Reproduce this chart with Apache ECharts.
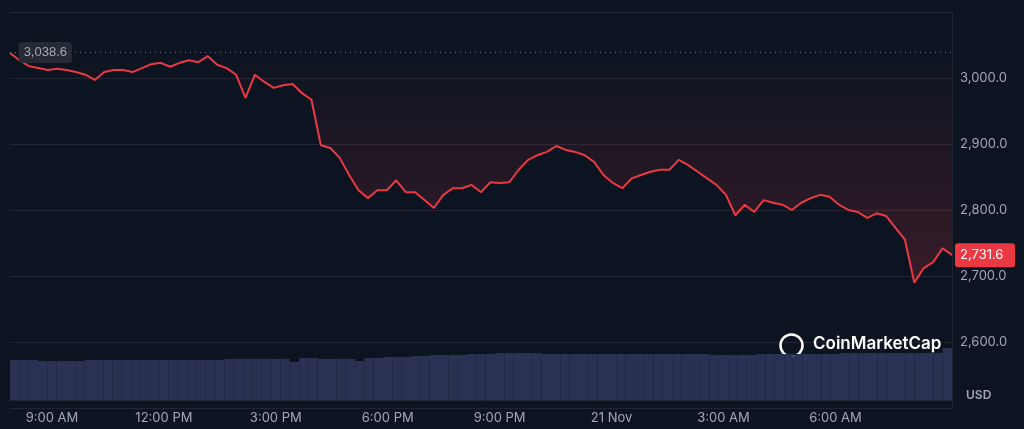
<!DOCTYPE html>
<html>
<head>
<meta charset="utf-8">
<script src="https://cdn.jsdelivr.net/npm/echarts@6/dist/echarts.min.js"></script>
<style>html,body{margin:0;background:#0d1421}#main{width:1024px;height:429px}</style>
</head>
<body>
<div id="main"></div>
<script>
// 15-minute steps, from 8:00 AM to 9:00 AM next day
var prices = [3038,3027,3018,3015,3012,3014,3012,3009,3005,2997,3009,3012,3012,3009,3015,3021,3023,3017,3023,3027,
  3024,3033,3020,3015,3005,2970,3005,2994,2985,2989,2991,2977,2967,2898,2894,2879,2853,2830,2818,2830,
  2830,2845,2827,2827,2815,2803,2823,2833,2833,2838,2827,2842,2841,2842,2861,2876,2883,2888,2897,2891,
  2888,2883,2873,2853,2841,2833,2848,2853,2858,2861,2861,2876,2868,2858,2848,2838,2823,2792,2808,2797,
  2815,2811,2808,2800,2811,2818,2823,2820,2808,2800,2797,2788,2795,2791,2773,2755,2690,2712,2721,2742,2731.6];
var volumes = [40,40,40,39,39,39,39,39,40,40,40,40,40,40,40,40,40,40,40,40,
  40,40,40,41,41,41,41,41,41,41,38,42,42,41,41,41,41,39,42,42,
  43,43,43,44,44,45,45,45,45,46,46,46,47,47,47,47,47,46,46,46,
  46,46,46,46,46,46,46,46,46,46,46,46,46,46,46,45,45,45,45,45,
  46,46,46,46,46,46,46,46,46,47,47,47,47,47,47,47,47,47,47,47,52];
var openPrice = 3038.6, lastPrice = 2731.6;

var times = [];
for (var i = 0; i < prices.length; i++) {
  var m = 8 * 60 + i * 15, h = Math.floor(m / 60) % 24, mm = m % 60;
  times.push({h: h, m: mm});
}
function fmtTime(t) {
  if (t.h === 0 && t.m === 0) return '21 Nov';
  var hh = t.h % 12 === 0 ? 12 : t.h % 12;
  return hh + ':' + (t.m < 10 ? '0' : '') + t.m + (t.h < 12 ? ' AM' : ' PM');
}
var cats = times.map(fmtTime);

var chart = echarts.init(document.getElementById('main'));
var txt = '#a1a7bb';
chart.setOption({
  backgroundColor: '#0d1421',
  animation: false,
  grid: [
    {left: 10, right: 72, top: 12, bottom: 21},
    {left: 10, right: 72, top: 340, bottom: 29}
  ],
  xAxis: [{
    type: 'category', data: cats, boundaryGap: false, gridIndex: 0,
    axisLine: {show: false}, axisTick: {show: false},
    splitLine: {show: false}, axisLabel: {show: false}
  }, {
    type: 'category', data: cats, gridIndex: 1,
    axisLine: {lineStyle: {color: '#222531'}}, axisTick: {show: false},
    axisLabel: {
      color: txt, fontSize: 13, fontFamily: 'Inter', margin: 12,
      interval: function (idx) { var t = times[idx]; return t.m === 0 && t.h % 3 === 0 && idx < 98; }
    }
  }],
  yAxis: [{
    type: 'value', position: 'right', min: 2500, max: 3100, interval: 100, gridIndex: 0,
    axisLine: {show: true, lineStyle: {color: '#222531'}},
    splitLine: {lineStyle: {color: '#222531'}},
    axisLabel: {
      color: txt, fontSize: 13, fontFamily: 'Inter', margin: 8,
      formatter: function (v) { return (v === 2500 || v === 3100) ? '' : v.toLocaleString('en-US', {minimumFractionDigits: 1}); }
    }
  }, {
    type: 'value', gridIndex: 1, min: 0, max: 60, show: false
  }],
  series: [{
    type: 'line', data: prices, symbol: 'none', xAxisIndex: 0, yAxisIndex: 0,
    lineStyle: {color: '#ea3943', width: 2},
    areaStyle: {
      origin: openPrice,
      color: new echarts.graphic.LinearGradient(0, 0, 0, 1, [
        {offset: 0, color: 'rgba(234,57,67,0)'},
        {offset: 1, color: 'rgba(234,57,67,0.28)'}
      ])
    },
    markLine: {
      silent: true, symbol: 'none',
      data: [
        {yAxis: openPrice, lineStyle: {color: '#6b7080', type: [1, 4], width: 1},
         label: {position: 'start', distance: -62, formatter: '3,038.6', color: txt, fontSize: 13,
                 backgroundColor: '#262a35', padding: [4, 5], borderRadius: 4}}
      ]
    }
  }, {
    type: 'bar', data: volumes, xAxisIndex: 1, yAxisIndex: 1,
    barCategoryGap: '0%', itemStyle: {color: '#2a3152'}
  }]
});
var py = chart.convertToPixel({yAxisIndex: 0}, lastPrice);
chart.setOption({
  graphic: [
    {type: 'circle', left: 778, top: 332, shape: {r: 11}, style: {fill: 'none', stroke: '#fff', lineWidth: 2.5}},
    {type: 'text', left: 813, top: 335, style: {text: 'CoinMarketCap', fill: '#fff', font: '600 17px Inter'}},
    {type: 'text', left: 966, top: 389, style: {text: 'USD', fill: txt, font: '600 12px Inter'}},
    {type: 'rect', left: 955, top: py - 12, shape: {width: 60, height: 24, r: 3}, style: {fill: '#ea3943'}},
    {type: 'text', left: 960, top: py - 7, style: {text: '2,731.6', fill: '#fff', font: '13px Inter'}}
  ]
});
</script>
</body>
</html>
